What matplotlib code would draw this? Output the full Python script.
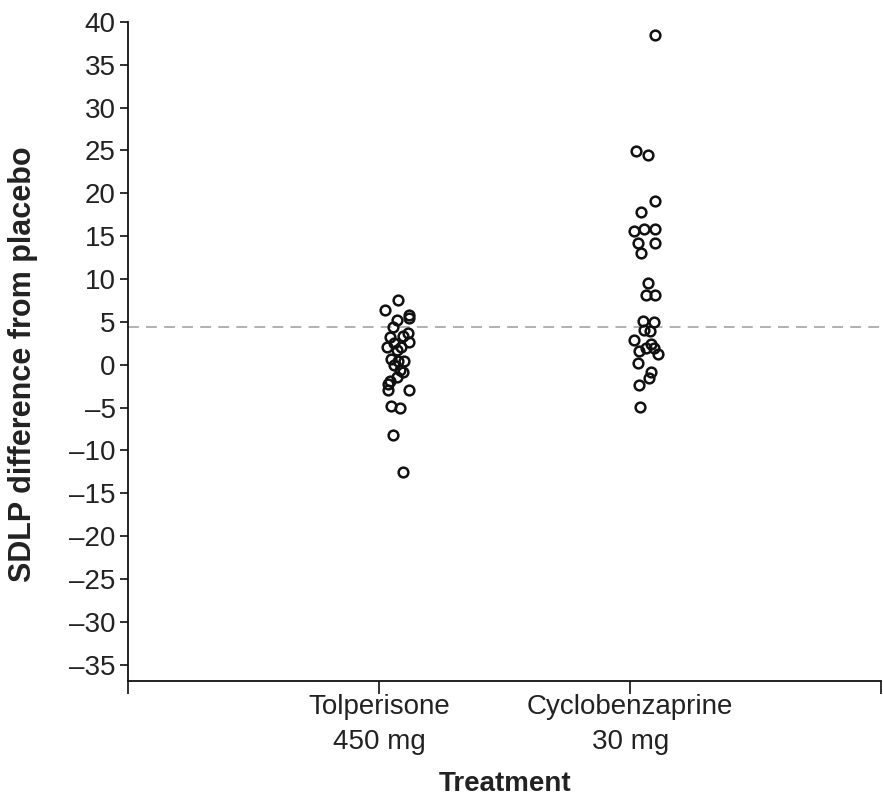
import matplotlib
matplotlib.use("Agg")
import matplotlib.pyplot as plt
import numpy as np

plt.rcParams['font.family'] = ['Liberation Sans', 'DejaVu Sans']

categories = ["Tolperisone\n450 mg", "Cyclobenzaprine\n30 mg"]

tol_values = [7.5, 6.4, 5.85, 5.5, 5.2, 4.4, 3.7, 3.3, 3.2, 2.65, 2.5, 2.1, 2.1, 1.7,
              0.7, 0.4, 0.4, 0.0, -0.6, -0.8, -1.45, -1.95, -2.3, -2.9, -2.9,
              -4.8, -5.0, -8.2, -12.5]
tol_jitter = [0.075, 0.024, 0.121, 0.121, 0.071, 0.057, 0.115, 0.095, 0.044, 0.121, 0.06, 0.032, 0.088, 0.07,
              0.048, 0.075, 0.099, 0.061, 0.082, 0.096, 0.073, 0.045, 0.037, 0.035, 0.121,
              0.048, 0.084, 0.057, 0.094]

cyc_values = [38.5, 24.9, 24.5, 19.1, 17.8, 15.6, 15.8, 15.8, 14.25, 14.25, 13.0,
              9.5, 8.1, 8.1, 5.1, 4.95, 4.1, 3.9, 2.9, 2.0, 2.45, 1.55, 1.95, 1.3,
              0.25, -0.8, -1.55, -2.4, -4.95]
cyc_jitter = [0.1, 0.025, 0.072, 0.1, 0.045, 0.016, 0.056, 0.1, 0.03, 0.1, 0.042,
              0.072, 0.062, 0.1, 0.05, 0.093, 0.056, 0.079, 0.016, 0.062, 0.083, 0.034, 0.095, 0.11,
              0.03, 0.083, 0.075, 0.036, 0.038]

ref_line = 4.4
yticks = list(range(-35, 45, 5))

fig = plt.figure(figsize=(8.83, 7.97), dpi=100)
ax = fig.add_axes([0.145, 0.1455, 0.853, 0.827])

ax.axhline(ref_line, color='#aaaaaa', lw=1.3, ls=(0, (6, 4)), zorder=1)

for i, (vals, jit) in enumerate([(tol_values, tol_jitter), (cyc_values, cyc_jitter)]):
    xs = np.full(len(vals), i + 1.0) + np.array(jit)
    ax.plot(xs, vals, ls='none', marker='o', ms=7.0, mfc='none', mec='#111111', mew=1.8, zorder=3)

ax.set_xlim(0, 3)
ax.set_ylim(-36.9, 40)
ax.set_yticks(yticks)
ax.set_yticklabels([str(v).replace('-', '\u2013') for v in yticks])
ax.set_xticks([0, 1, 2, 3])
ax.set_xticklabels(["", categories[0], categories[1], ""])

for s in ['top', 'right']:
    ax.spines[s].set_visible(False)
for s in ['left', 'bottom']:
    ax.spines[s].set_linewidth(1.3)
    ax.spines[s].set_color('#111111')

ax.tick_params(axis='y', length=6, width=1.3, labelsize=20, pad=3, colors='#222222')
ax.tick_params(axis='x', length=9, width=1.3, labelsize=20, pad=0, colors='#222222')
for lbl in ax.get_xticklabels():
    lbl.set_linespacing(1.45)

ax.set_ylabel("SDLP difference from placebo", fontsize=22, fontweight='bold', color='#222222')
ax.yaxis.set_label_coords(-0.119, 0.48)
ax.set_xlabel("Treatment", fontsize=20, fontweight='bold', color='#222222', labelpad=12)

fig.savefig("out.png", dpi=100)
